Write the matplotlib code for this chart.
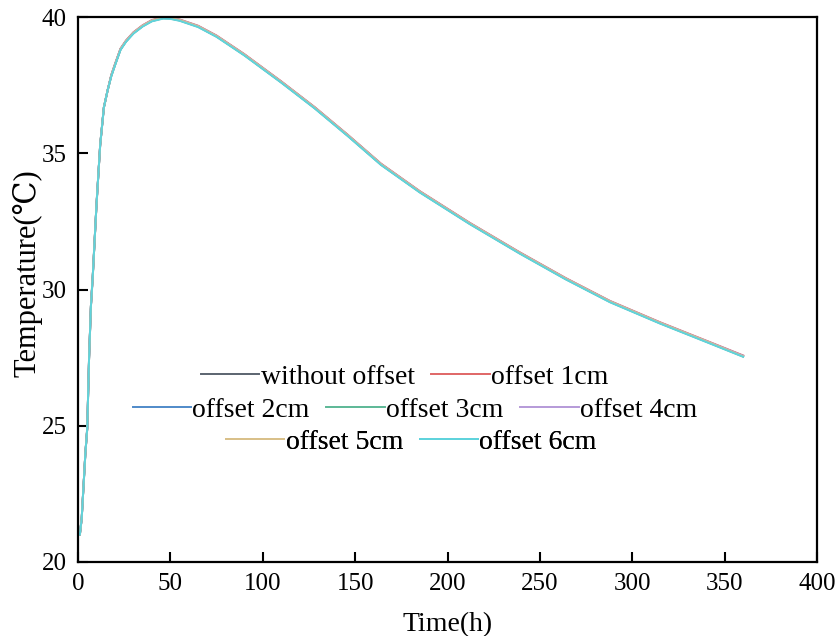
import matplotlib
matplotlib.use("Agg")
import matplotlib.pyplot as plt

# time axis (h) and temperature curves (degC) for each offset case
time_h = [0, 1, 2, 3, 4, 5, 6, 7, 8, 10, 12, 14, 16, 18, 20, 23, 26, 30, 35,
          40, 46, 50, 55, 65, 75, 90, 110, 128, 146, 164, 185, 212, 239, 264,
          288, 315, 342, 360]

# early heating phase is identical for all cases
temp_rise = [21.0, 21.0, 21.6, 22.8, 24.0, 24.9, 27.5, 29.4, 30.5, 33.1,
             35.3, 36.68, 37.3]

temp_no_offset = temp_rise + [
    37.85, 38.25, 38.82, 39.12, 39.42, 39.68, 39.87, 39.97, 39.96, 39.89,
    39.66, 39.30, 38.62, 37.62, 36.68, 35.66, 34.60, 33.59, 32.43, 31.35,
    30.40, 29.56, 28.78, 28.05, 27.56]
temp_offset_1 = temp_rise + [
    37.87, 38.27, 38.84, 39.14, 39.44, 39.70, 39.89, 39.99, 39.98, 39.91,
    39.68, 39.32, 38.64, 37.64, 36.70, 35.68, 34.62, 33.61, 32.45, 31.37,
    30.42, 29.58, 28.80, 28.07, 27.58]
temp_offset_2 = temp_rise + [
    37.84, 38.24, 38.81, 39.11, 39.41, 39.67, 39.86, 39.96, 39.95, 39.88,
    39.65, 39.29, 38.61, 37.61, 36.67, 35.65, 34.59, 33.58, 32.42, 31.34,
    30.39, 29.55, 28.77, 28.04, 27.55]
temp_offset_3 = temp_rise + [
    37.83, 38.23, 38.80, 39.10, 39.40, 39.66, 39.85, 39.95, 39.94, 39.87,
    39.64, 39.28, 38.60, 37.60, 36.66, 35.64, 34.58, 33.57, 32.41, 31.33,
    30.38, 29.54, 28.76, 28.03, 27.54]
temp_offset_4 = temp_rise + [
    37.86, 38.26, 38.83, 39.13, 39.43, 39.69, 39.88, 39.98, 39.97, 39.90,
    39.67, 39.31, 38.63, 37.63, 36.69, 35.67, 34.61, 33.60, 32.44, 31.36,
    30.41, 29.57, 28.79, 28.06, 27.57]
temp_offset_5 = temp_rise + [
    37.85, 38.25, 38.82, 39.12, 39.42, 39.68, 39.87, 39.97, 39.96, 39.89,
    39.66, 39.30, 38.62, 37.62, 36.68, 35.66, 34.60, 33.59, 32.43, 31.35,
    30.40, 29.56, 28.78, 28.05, 27.55]
temp_offset_6 = temp_rise + [
    37.82, 38.22, 38.79, 39.09, 39.39, 39.65, 39.84, 39.94, 39.93, 39.86,
    39.63, 39.27, 38.59, 37.59, 36.65, 35.63, 34.57, 33.56, 32.40, 31.32,
    30.37, 29.53, 28.75, 28.02, 27.53]

labels = ["without offset", "offset 1cm", "offset 2cm", "offset 3cm",
          "offset 4cm", "offset 5cm", "offset 6cm"]
colors = ["#5b6470", "#e06666", "#4f8ac9", "#5cb896", "#b69ad8",
          "#d9c08a", "#5fd3dc"]
series = [temp_no_offset, temp_offset_1, temp_offset_2, temp_offset_3,
          temp_offset_4, temp_offset_5, temp_offset_6]

plt.rcParams["font.family"] = ["Liberation Serif", "DejaVu Serif"]

fig = plt.figure(figsize=(8.35, 6.36), dpi=100)
axis = fig.add_axes([78 / 835, 1 - 562 / 636, (817 - 78) / 835, (562 - 17) / 636])

handles = []
for temp, color, label in zip(series, colors, labels):
    (line,) = axis.plot(time_h, temp, color=color, lw=1.4, label=label)
    handles.append(line)

axis.set_xlim(0, 400)
axis.set_ylim(20, 40)
axis.set_xticks(range(0, 401, 50))
axis.set_yticks(range(20, 41, 5))
axis.tick_params(direction="in", length=7, width=1.5, labelsize=18, pad=8)
for spine in axis.spines.values():
    spine.set_linewidth(1.6)
axis.set_xlabel("Time(h)", fontsize=20, labelpad=12)
axis.set_ylabel("Temperature(\u2103)", fontsize=22)
axis.yaxis.set_label_coords(-0.048, 0.53)

# legend laid out in three centred rows
rows = [([0, 1], 0.442, 0.339), ([2, 3, 4], 0.456, 0.279), ([5, 6], 0.451, 0.220)]
for idx, xpos, ypos in rows:
    leg = axis.legend(
        [handles[i] for i in idx],
        [labels[i] for i in idx],
        loc="center",
        bbox_to_anchor=(xpos, ypos),
        ncol=len(idx),
        frameon=False,
        fontsize=20,
        handlelength=2.1,
        handletextpad=0.05,
        columnspacing=0.6,
        borderpad=0,
    )
    axis.add_artist(leg)

fig.savefig("out.png", dpi=100)
plt.close()
